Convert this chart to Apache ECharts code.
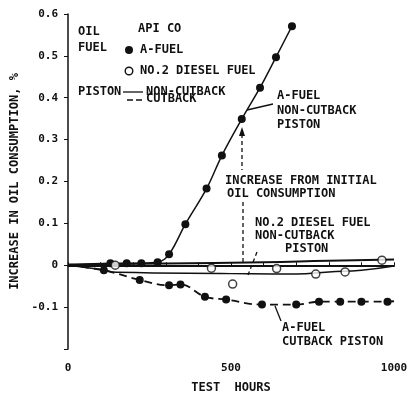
<!DOCTYPE html>
<html>
<head>
<meta charset="utf-8">
<script src="https://cdn.jsdelivr.net/npm/echarts@6/dist/echarts.min.js"></script>
<style>
  html, body { margin: 0; padding: 0; background: #fff; }
  #chart { width: 416px; height: 399px; }
</style>
</head>
<body>
<div id="chart"></div>
<script>
// A-fuel, non-cutback piston (filled dots, solid line)
const hoursANonCut = [0, 130, 180, 225, 275, 310, 360, 425, 472, 533, 589, 638, 687];
const aFuelNonCut = [0, 0.005, 0.005, 0.005, 0.007, 0.026, 0.098, 0.183, 0.262, 0.349, 0.424, 0.497, 0.571];
// A-fuel, cutback piston (filled dots, dashed line)
const hoursACut = [0, 110, 220, 310, 345, 420, 485, 595, 700, 770, 835, 900, 980, 1000];
const aFuelCut = [0, -0.012, -0.035, -0.048, -0.046, -0.075, -0.082, -0.094, -0.094, -0.087, -0.087, -0.087, -0.087, -0.086];
// No.2 diesel fuel (open circles)
const hoursDiesel = [145, 440, 505, 640, 760, 850, 963];
const dieselFuel = [0.0, -0.007, -0.045, -0.008, -0.021, -0.016, 0.012];
// two solid reference lines near zero
const hoursUpper = [0, 300, 600, 800, 1000];
const upperLine = [0.002, 0.004, 0.007, 0.011, 0.014];
const hoursLower = [0, 100, 150, 500, 700, 800, 900, 1000];
const lowerLine = [0, -0.01, -0.017, -0.02, -0.021, -0.016, -0.012, -0.002];
// axis labels
const xLabels = [0, 500, 1000];
const yLabels = [0.6, 0.5, 0.4, 0.3, 0.2, 0.1, 0, -0.1];

const FONT = 'DejaVu Sans Mono';
const INK = '#111';

function pairs(xs, ys, noMarkEnds) {
    let out = [];
    for (let i = 0; i < xs.length; i++) {
        let item = { value: [xs[i], ys[i]] };
        if (noMarkEnds && (xs[i] === 0 || xs[i] === 1000)) item.symbol = 'none';
        out.push(item);
    }
    return out;
}

function txt(x, y, s, extra) {
    return Object.assign({
        type: 'text', x: x, y: y,
        style: { text: s, font: 'bold 12px "' + FONT + '"', fill: INK }
    }, extra || {});
}
function seg(x1, y1, x2, y2, dash) {
    return {
        type: 'line',
        shape: { x1: x1, y1: y1, x2: x2, y2: y2 },
        style: { stroke: INK, lineWidth: 1.3, lineDash: dash || null }
    };
}

let myChart = echarts.init(document.getElementById('chart'));
let option = {
    animation: false,
    grid: { left: 68, right: 22, top: 14, bottom: 45 },
    xAxis: {
        type: 'value', min: 0, max: 1000, interval: 100,
        name: 'TEST  HOURS', nameLocation: 'middle', nameGap: 33,
        nameTextStyle: { fontFamily: FONT, fontWeight: 'bold', fontSize: 12, color: INK },
        axisLine: { lineStyle: { color: INK, width: 2 } },
        axisTick: { inside: true, length: 3, lineStyle: { color: INK } },
        splitLine: { show: false },
        axisLabel: {
            margin: 14, fontFamily: FONT, fontWeight: 'bold', fontSize: 11, color: INK,
            formatter: v => xLabels.indexOf(v) >= 0 ? String(v) : ''
        }
    },
    yAxis: {
        type: 'value', min: -0.2, max: 0.6, interval: 0.1,
        name: 'INCREASE IN OIL CONSUMPTION, %', nameLocation: 'middle', nameGap: 40,
        nameTextStyle: { fontFamily: FONT, fontWeight: 'bold', fontSize: 12, color: INK },
        axisLine: { show: true, lineStyle: { color: INK, width: 1.5 } },
        axisTick: { show: true, length: 4, lineStyle: { color: INK } },
        splitLine: { show: false },
        axisLabel: {
            margin: 10, fontFamily: FONT, fontWeight: 'bold', fontSize: 11, color: INK,
            formatter: v => {
                let r = Math.round(v * 10) / 10;
                return yLabels.indexOf(r) >= 0 ? String(r) : '';
            }
        }
    },
    series: [
        {
            name: 'A-fuel non-cutback', type: 'line', smooth: 0.35,
            data: pairs(hoursANonCut, aFuelNonCut, true),
            symbol: 'circle', symbolSize: 8,
            itemStyle: { color: INK },
            lineStyle: { color: INK, width: 1.5 }
        },
        {
            name: 'A-fuel cutback', type: 'line', smooth: 0.4,
            data: pairs(hoursACut, aFuelCut, true),
            symbol: 'circle', symbolSize: 8,
            itemStyle: { color: INK },
            lineStyle: { color: INK, width: 1.8, type: [8, 5] }
        },
        {
            name: 'upper', type: 'line', smooth: true, symbol: 'none',
            data: pairs(hoursUpper, upperLine),
            lineStyle: { color: INK, width: 2 }
        },
        {
            name: 'lower', type: 'line', smooth: true, symbol: 'none',
            data: pairs(hoursLower, lowerLine),
            lineStyle: { color: INK, width: 1.5 }
        },
        {
            name: 'No.2 diesel', type: 'scatter',
            data: pairs(hoursDiesel, dieselFuel),
            symbol: 'circle', symbolSize: 8, z: 5,
            itemStyle: { color: '#fff', borderColor: INK, borderWidth: 1.5 }
        }
    ],
    graphic: [
        // legend block
        txt(78, 26, 'OIL'),
        txt(78, 42, 'FUEL'),
        txt(138, 23, 'API CO'),
        { type: 'circle', shape: { cx: 129, cy: 50, r: 4 }, style: { fill: INK } },
        txt(140, 44, 'A-FUEL'),
        { type: 'circle', shape: { cx: 129, cy: 71, r: 3.8 }, style: { fill: '#fff', stroke: INK, lineWidth: 1.4 } },
        txt(140, 65, 'NO.2 DIESEL FUEL'),
        txt(78, 86, 'PISTON'),
        seg(123, 92, 143, 92),
        txt(146, 86, 'NON-CUTBACK'),
        seg(127, 100, 143, 100, [6, 3]),
        txt(146, 93, 'CUTBACK'),
        // A-fuel non-cutback annotation
        txt(277, 90, 'A-FUEL'),
        txt(277, 105, 'NON-CUTBACK'),
        txt(277, 119, 'PISTON'),
        seg(273, 104, 247, 110),
        // increase arrow
        seg(242, 134, 242, 170, [4, 3]),
        seg(243, 202, 243, 264, [4, 3]),
        { type: 'polygon', shape: { points: [[242, 127], [239, 136], [245, 136]] }, style: { fill: INK } },
        txt(225, 175, 'INCREASE FROM INITIAL'),
        txt(227, 188, 'OIL CONSUMPTION'),
        // diesel annotation
        txt(255, 217, 'NO.2 DIESEL FUEL'),
        txt(255, 230, 'NON-CUTBACK'),
        txt(285, 243, 'PISTON'),
        seg(257, 252, 248, 275, [4, 3]),
        // A-fuel cutback annotation
        txt(282, 322, 'A-FUEL'),
        txt(282, 336, 'CUTBACK PISTON'),
        seg(275, 306, 281, 321)
    ]
};
myChart.setOption(option, true);
</script>
</body>
</html>
